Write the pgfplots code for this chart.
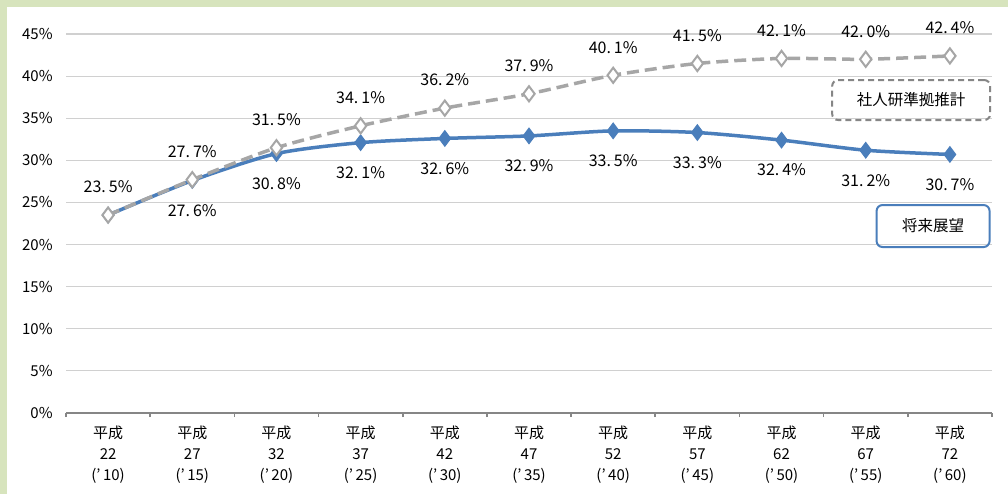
\documentclass[border=0pt]{standalone}
\usepackage{fontspec}
\setmainfont{Noto Sans CJK JP}
\usepackage{pgfplots}
\pgfplotsset{compat=1.18}
\definecolor{frame}{HTML}{D7E4BD}
\definecolor{bl}{HTML}{4A7EBB}
\definecolor{gr}{HTML}{A6A6A6}
\definecolor{gridc}{HTML}{D0D0D0}
\definecolor{axc}{HTML}{868686}
\pgfplotstableread{
x y
0 23.5
1 27.6
2 30.8
3 32.1
4 32.6
5 32.9
6 33.5
7 33.3
8 32.4
9 31.2
10 30.7
}\bluedata
\pgfplotstableread{
x y
0 23.5
1 27.7
2 31.5
3 34.1
4 36.2
5 37.9
6 40.1
7 41.5
8 42.1
9 42.0
10 42.4
}\graydata
\begin{document}
\begin{tikzpicture}[x=1pt,y=1pt]
\fill[frame] (0,0) rectangle (504,247);
\fill[white] (3.5,0) rectangle (504,243.5);
\begin{axis}[at={(33pt,40.5pt)}, anchor=south west, scale only axis,
  width=463pt, height=189.5pt,
  xmin=-0.5, xmax=10.5, ymin=0, ymax=45, clip=false,
  ytick={0,5,...,45},
  yticklabel={\pgfmathprintnumber[fixed,precision=0]{\tick}\%},
  xtick={0,...,10},
  xticklabels={{平成\\22\\(’\,10)},{平成\\27\\(’\,15)},{平成\\32\\(’\,20)},{平成\\37\\(’\,25)},{平成\\42\\(’\,30)},{平成\\47\\(’\,35)},{平成\\52\\(’\,40)},{平成\\57\\(’\,45)},{平成\\62\\(’\,50)},{平成\\67\\(’\,55)},{平成\\72\\(’\,60)}},
  minor xtick={-0.5,0.5,...,10.5},
  major tick length=0pt, minor tick length=2pt, tick align=outside,
  minor tick style={axc, line width=0.8pt},
  /pgf/number format/assume math mode=true,
  ticklabel style={font=\fontsize{7.5}{10.5}\selectfont},
  xticklabel style={align=center, anchor=north, inner sep=0pt, yshift=-6.5pt},
  yticklabel style={anchor=east, inner sep=0pt, xshift=-6.5pt},
  axis lines*=left,
  y axis line style={draw=none},
  x axis line style={axc, line width=1pt},
  ymajorgrids, major grid style={gridc, line width=0.6pt},
  point meta=y,
]
\addplot[bl, line width=1.75pt, smooth, tension=0.45, mark=diamond*, mark size=3.9pt,
  mark options={solid, fill=bl, draw=bl, line width=0.5pt}] table[x=x,y=y] {\bluedata};
\addplot[draw=none, mark=none, skip coords between index={0}{1},
  nodes near coords={\pgfmathprintnumber[fixed,fixed zerofill,precision=1,set decimal separator={.\hspace{1.5pt}}]{\pgfplotspointmeta}\%},
  every node near coord/.style={anchor=center, yshift=-15pt, font=\fontsize{8}{9}\selectfont, black}]
  table[x=x,y=y] {\bluedata};
\addplot[gr, line width=1.75pt, smooth, tension=0.45, dash pattern=on 6pt off 3pt, mark=diamond*, mark size=3.8pt,
  mark options={solid, fill=white, draw=gr, line width=1pt},
  nodes near coords={\pgfmathprintnumber[fixed,fixed zerofill,precision=1,set decimal separator={.\hspace{1.5pt}}]{\pgfplotspointmeta}\%},
  every node near coord/.style={anchor=center, yshift=14pt, font=\fontsize{8}{9}\selectfont, black}]
  table[x=x,y=y] {\graydata};
\node[draw=axc, line width=1pt, dash pattern=on 3pt off 2pt, rounded corners=3pt, minimum width=79pt, minimum height=20pt, font=\fontsize{7.75}{9}\selectfont] at (axis cs:9.54,37.16) {社人研準拠推計};
\node[draw=bl, line width=1pt, rounded corners=3pt, minimum width=56.5pt, minimum height=21pt, font=\fontsize{7.75}{9}\selectfont] at (axis cs:9.80,22.2) {将来展望};
\end{axis}
\end{tikzpicture}
\end{document}
